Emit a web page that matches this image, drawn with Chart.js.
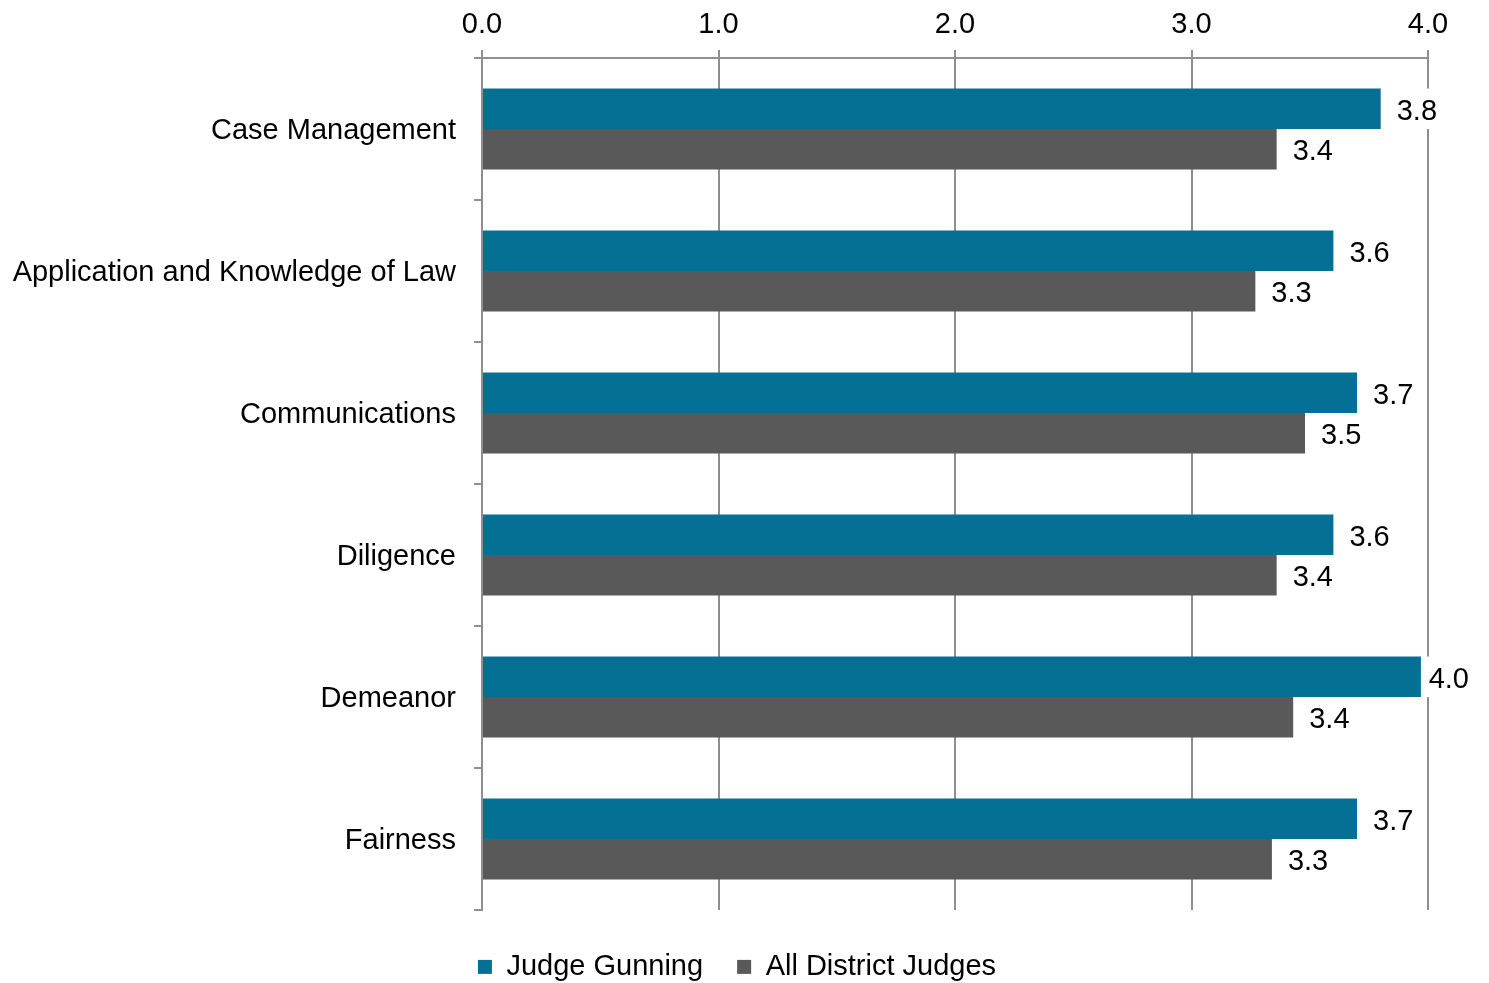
<!DOCTYPE html>
<html>
<head>
<meta charset="utf-8">
<script src="https://cdn.jsdelivr.net/npm/chart.js@4.4.0/dist/chart.umd.min.js"></script>
<style>
    html, body { margin: 0; padding: 0; background: #fff; }
    #chart { display: block; }
</style>
</head>
<body>
<canvas id="chart" width="1489" height="983"></canvas>
<script>
// Chart data
const categories = ['Case Management', 'Application and Knowledge of Law', 'Communications', 'Diligence', 'Demeanor', 'Fairness'];
const judgeGunning = [3.80, 3.60, 3.70, 3.60, 3.97, 3.70];
const allDistrictJudges = [3.36, 3.27, 3.48, 3.36, 3.43, 3.34];
const xTicks = [0, 1, 2, 3, 4];

const TEAL = '#047094';
const GREY = '#595959';
const GRID = '#8f8f8f';
const FONT = "Arial, 'Liberation Sans', sans-serif";

Chart.defaults.font.family = FONT;
Chart.defaults.font.size = 29;
Chart.defaults.color = '#000';

// Value labels at the end of each bar, on a white box (hides the gridline)
const barLabels = {
    id: 'barLabels',
    afterLayout(chart) {
        // legend sits under the plot, nudge its box so it lines up like the original
        chart.legend.left = 46;
    },
    afterDatasetsDraw(chart) {
        const ctx = chart.ctx;
        ctx.save();
        ctx.font = '29px ' + FONT;
        ctx.textBaseline = 'middle';
        ctx.textAlign = 'left';
        chart.data.datasets.forEach((ds, i) => {
            chart.getDatasetMeta(i).data.forEach((bar, j) => {
                const txt = ds.data[j].toFixed(1);
                const w = ctx.measureText(txt).width;
                const x = Math.min(bar.x + 16, chart.width - 20 - w);
                ctx.fillStyle = '#fff';
                ctx.fillRect(x - 6, bar.y - bar.height / 2, w + 12, bar.height);
                ctx.fillStyle = '#000';
                ctx.fillText(txt, x, bar.y + 3);
            });
        });
        ctx.restore();
    }
};

const ctx = document.getElementById('chart').getContext('2d');
new Chart(ctx, {
    type: 'bar',
    data: {
        labels: categories,
        datasets: [
            {
                label: 'Judge Gunning',
                data: judgeGunning,
                backgroundColor: TEAL,
                borderWidth: 0,
                categoryPercentage: 0.57,
                barPercentage: 1.0
            },
            {
                label: 'All District Judges',
                data: allDistrictJudges,
                backgroundColor: GREY,
                borderWidth: 0,
                categoryPercentage: 0.57,
                barPercentage: 1.0
            }
        ]
    },
    options: {
        indexAxis: 'y',
        responsive: false,
        animation: false,
        devicePixelRatio: 1,
        layout: { padding: { left: 0, right: 61, top: 0, bottom: 0 } },
        plugins: {
            tooltip: { enabled: false },
            legend: {
                position: 'bottom',
                maxHeight: 73,
                title: { display: true, text: '', padding: 0, font: { size: 7 } },
                labels: {
                    boxWidth: 14,
                    boxHeight: 14,
                    padding: 34,
                    color: '#000',
                    font: { size: 29 }
                }
            }
        },
        scales: {
            x: {
                position: 'top',
                min: 0,
                max: 4,
                afterBuildTicks: s => { s.ticks = xTicks.map(v => ({ value: v })); },
                afterFit: s => { s.height = 58; },
                ticks: {
                    padding: 8,
                    color: '#000',
                    callback: v => Number(v).toFixed(1)
                },
                grid: { color: GRID, lineWidth: 2, tickLength: 8 },
                border: { color: GRID, width: 2 }
            },
            y: {
                afterFit: s => { s.width = 482; },
                ticks: { padding: 18, labelOffset: 2, color: '#000' },
                grid: { drawOnChartArea: false, color: GRID, lineWidth: 2, tickLength: 8, offset: true },
                border: { color: GRID, width: 2 }
            }
        }
    },
    plugins: [barLabels]
});
</script>
</body>
</html>
